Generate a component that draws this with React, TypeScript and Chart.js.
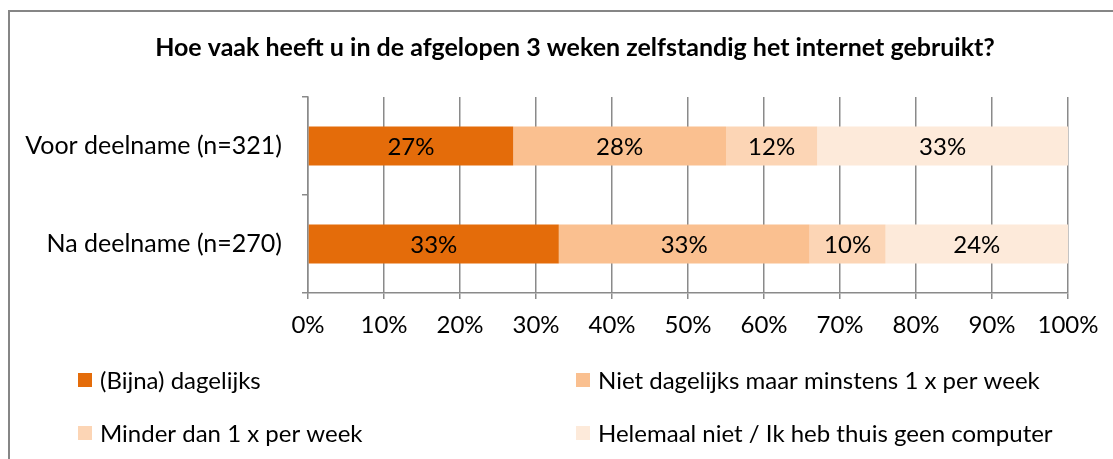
import React, { useEffect, useRef } from "react";
import { Chart, registerables } from "chart.js";

Chart.register(...registerables);

const title = "Hoe vaak heeft u in de afgelopen 3 weken zelfstandig het internet gebruikt?";
const categories = ["Voor deelname (n=321)", "Na deelname (n=270)"];
const seriesNames = [
  "(Bijna) dagelijks",
  "Niet dagelijks maar minstens 1 x per week",
  "Minder dan 1 x per week",
  "Helemaal niet / Ik heb thuis geen computer",
];
const dagelijks = [27, 33];
const wekelijks = [28, 33];
const minder = [12, 10];
const nooit = [33, 24];
const seriesColors = ["#E46C0A", "#FAC090", "#FCD5B5", "#FDEADA"];
const xTicks = [0, 10, 20, 30, 40, 50, 60, 70, 80, 90, 100];

const FONT = "Lato, 'Open Sans', sans-serif";
const FS = 24;

const overlayPlugin = {
  id: "overlay",
  beforeDraw(chart: any) {
    const ctx = chart.ctx;
    ctx.save();
    ctx.fillStyle = "#ffffff";
    ctx.fillRect(0, 0, chart.width, chart.height);
    ctx.strokeStyle = "#868686";
    ctx.lineWidth = 2;
    ctx.strokeRect(9, 11, chart.width + 20, chart.height + 20);
    ctx.restore();
  },
  afterDraw(chart: any) {
    const ctx = chart.ctx;
    ctx.save();
    // title
    ctx.fillStyle = "#000";
    ctx.font = `bold 25px ${FONT}`;
    ctx.textAlign = "center";
    ctx.textBaseline = "middle";
    ctx.fillText(title, 575, 48);
    // data labels
    ctx.font = `${FS}px ${FONT}`;
    chart.data.datasets.forEach((ds: any, i: number) => {
      const meta = chart.getDatasetMeta(i);
      meta.data.forEach((bar: any, j: number) => {
        const v = ds.data[j];
        const cx = (bar.x + bar.base) / 2;
        ctx.fillText(`${v}%`, cx, bar.y + 1);
      });
    });
    // legend
    const pos = [
      [78, 380],
      [576, 380],
      [78, 433],
      [576, 433],
    ];
    ctx.textAlign = "left";
    seriesNames.forEach((name, i) => {
      const [x, y] = pos[i];
      ctx.fillStyle = seriesColors[i];
      ctx.fillRect(x, y - 7, 14, 14);
      ctx.fillStyle = "#000";
      ctx.fillText(name, x + 22, y + 1);
    });
    ctx.restore();
  },
};

export default function App() {
  const ref = useRef<HTMLCanvasElement | null>(null);
  useEffect(() => {
    if (!ref.current) return;
    const data = [dagelijks, wekelijks, minder, nooit];
    const chart = new Chart(ref.current, {
      type: "bar",
      data: {
        labels: categories,
        datasets: seriesNames.map((n, i) => ({
          label: n,
          data: data[i],
          backgroundColor: seriesColors[i],
          borderWidth: 0,
          categoryPercentage: 1,
          barPercentage: 0.4,
        })),
      },
      options: {
        indexAxis: "y",
        animation: false,
        responsive: false,
        maintainAspectRatio: false,
        layout: { padding: { top: 97, right: 45, left: 0, bottom: 0 } },
        plugins: {
          legend: { display: false },
          title: { display: false },
          tooltip: { enabled: false },
        },
        scales: {
          x: {
            stacked: true,
            min: 0,
            max: 100,
            afterFit: (s: any) => {
              s.height = 459 - 97 - 196;
            },
            afterBuildTicks: (s: any) => {
              s.ticks = xTicks.map((v) => ({ value: v }));
            },
            ticks: {
              callback: (v: any) => `${v}%`,
              color: "#000",
              font: { family: FONT, size: FS },
              padding: 12,
              maxRotation: 0,
            },
            grid: {
              color: "#8a8a8a",
              lineWidth: 1.5,
              tickLength: 6,
              drawTicks: true,
            },
            border: { color: "#8a8a8a", width: 1.5 },
          },
          y: {
            stacked: true,
            afterFit: (s: any) => {
              s.width = 308;
            },
            ticks: {
              color: "#000",
              font: { family: FONT, size: 25 },
              padding: 20,
            },
            grid: {
              drawOnChartArea: false,
              drawTicks: true,
              tickLength: 6,
              color: "#8a8a8a",
              lineWidth: 1.5,
            },
            border: { color: "#8a8a8a", width: 1.5 },
          },
        },
      },
      plugins: [overlayPlugin],
    } as any);
    return () => chart.destroy();
  }, []);
  return (
    <div style={{ position: "fixed", left: 0, top: 0, width: 1113, height: 459, overflow: "hidden" }}>
      <canvas ref={ref} width={1113} height={459} style={{ width: 1113, height: 459, display: "block" }} />
    </div>
  );
}
